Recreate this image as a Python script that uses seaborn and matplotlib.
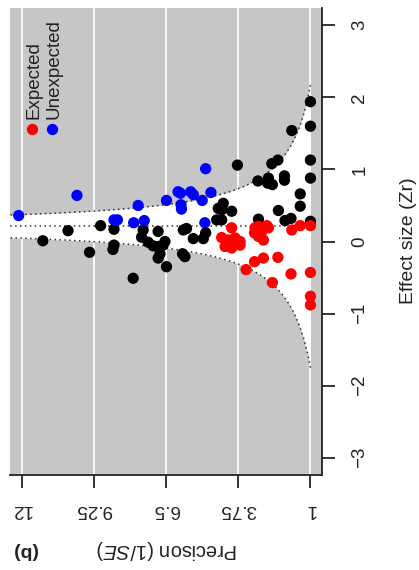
import matplotlib
matplotlib.use("Agg")
import matplotlib.pyplot as plt
import numpy as np
import pandas as pd
import seaborn as sns

sns.set_style("ticks")
plt.rcParams["font.family"] = ["Liberation Sans", "DejaVu Sans"]
plt.rcParams["mathtext.fontset"] = "custom"
plt.rcParams["mathtext.rm"] = "Liberation Sans"
plt.rcParams["mathtext.it"] = "Liberation Sans:italic"

# Studies with no directional prediction
neutral_precision = [11.19, 10.23, 9.41, 8.99, 8.48, 8.48, 8.52, 7.75, 7.37, 7.43,
                     6.80, 7.18, 6.99, 6.80, 6.61, 6.54, 6.80, 6.73, 6.48, 5.84,
                     5.72, 5.87, 5.78, 5.46, 5.08, 4.99, 4.57, 4.38, 4.51, 4.38,
                     4.00, 4.32, 3.78, 2.47, 2.24, 1.00, 3.00, 2.60, 2.63, 2.45,
                     1.99, 1.99, 1.00, 1.39, 1.39, 2.22, 2.98, 1.97, 1.74, 1.00,
                     1.00, 1.71, 1.00]
neutral_effect = [0.01, 0.15, -0.15, 0.22, 0.17, -0.05, -0.11, -0.51, 0.16, 0.06,
                  0.14, -0.01, -0.06, -0.07, -0.05, 0.00, -0.23, -0.17, -0.35, 0.16,
                  0.18, -0.17, -0.21, 0.04, 0.04, 0.12, 0.30, 0.30, 0.46, 0.44,
                  0.42, 0.53, 1.06, 1.08, 1.13, 1.13, 0.84, 0.88, 0.81, 0.79,
                  0.91, 0.85, 0.88, 0.66, 0.49, 0.43, 0.31, 0.29, 0.32, 0.28,
                  1.94, 1.54, 1.60]

# Studies whose result went against the prediction
unexpected_precision = [12.11, 9.89, 8.48, 8.35, 7.56, 7.73, 7.33, 6.48, 6.04, 5.95,
                        5.56, 5.46, 5.93, 5.91, 5.12, 4.79, 5.02, 4.99]
unexpected_effect = [0.36, 0.64, 0.30, 0.30, 0.50, 0.26, 0.29, 0.57, 0.69, 0.67,
                     0.69, 0.65, 0.51, 0.45, 0.57, 0.68, 0.26, 1.01]

# Studies whose result matched the prediction
expected_precision = [4.00, 4.38, 4.13, 3.87, 3.68, 4.25, 4.00, 3.68, 3.11, 2.98,
                      2.85, 2.66, 2.60, 3.13, 2.98, 2.79, 1.71, 1.39, 1.00, 3.13,
                      2.79, 2.24, 3.45, 1.74, 1.00, 2.45, 1.00, 1.00]
expected_effect = [0.19, 0.055, 0.02, 0.05, 0.00, -0.07, -0.09, -0.05, 0.19, 0.21,
                   0.14, 0.22, 0.19, 0.12, 0.07, 0.02, 0.16, 0.22, 0.22, -0.28,
                   -0.23, -0.22, -0.39, -0.45, -0.43, -0.57, -0.76, -0.88]

pooled_effect = 0.21
precision_ticks = [12, 9.25, 6.5, 3.75, 1]
precision_tick_labels = ["12", "9.25", "6.5", "3.75", "1"]
effect_ticks = [3, 2, 1, 0, -1, -2, -3]

df = pd.DataFrame({
    "precision": neutral_precision + unexpected_precision + expected_precision,
    "effect": neutral_effect + unexpected_effect + expected_effect,
    "group": (["Neutral"] * len(neutral_precision)
              + ["Unexpected"] * len(unexpected_precision)
              + ["Expected"] * len(expected_precision)),
})
palette = {"Neutral": "black", "Unexpected": "#0000FF", "Expected": "#FF0000"}

W, H = 419, 570
fig = plt.figure(figsize=(W / 100, H / 100), dpi=100)
ax = fig.add_axes([10 / W, 95 / H, 312 / W, 467 / H])
ax.set_facecolor("#c6c6c6")

# Precision runs right to left, effect size bottom to top
ax.set_xlim(12.44, 0.56)
ax.set_ylim(-3.24, 3.24)

for t in precision_ticks:
    ax.axvline(t, color="white", lw=1.3, zorder=0.5)

# 95% pseudo-confidence funnel around the pooled effect
p = np.linspace(1, 13, 500)
upper = pooled_effect + 1.96 / p
lower = pooled_effect - 1.96 / p
ax.fill_between(p, lower, upper, color="white", lw=0, zorder=1)
dots = (0, (1, 2.2))
ax.plot(p, upper, ls=dots, color="#333333", lw=1.1, zorder=2)
ax.plot(p, lower, ls=dots, color="#333333", lw=1.1, zorder=2)
ax.plot(p, np.full_like(p, pooled_effect), ls=dots, color="#333333", lw=1.1, zorder=2)

sns.scatterplot(data=df, x="precision", y="effect", hue="group", palette=palette,
                s=66, linewidth=0, legend=False, ax=ax, zorder=3)

# Axes: effect size on the right, precision along the bottom
for side in ("left", "top"):
    ax.spines[side].set_visible(False)
for side in ("right", "bottom"):
    ax.spines[side].set_color("#222222")
    ax.spines[side].set_linewidth(1.3)

ax.yaxis.tick_right()
ax.set_yticks(effect_ticks)
ax.set_xticks(precision_ticks, precision_tick_labels)
ax.tick_params(axis="y", direction="out", length=9, width=1.3, pad=12,
               labelsize=13.5, labelrotation=90, colors="#222222")
for lbl in ax.get_yticklabels():
    lbl.set_va("center")
ax.tick_params(axis="x", direction="out", length=9, width=1.3, pad=10,
               labelsize=13.5, labelrotation=180, colors="#222222")
ax.set_xlabel("")
ax.set_ylabel("")

fig.text(408 / W, 1 - 241 / H, "Effect size (Zr)", rotation=90,
         ha="center", va="center", fontsize=14, color="#222222")
fig.text(167 / W, 1 - 549 / H, r"Precison (1/$\mathit{SE}$)", rotation=180,
         ha="center", va="center", fontsize=14.5, color="#222222")
fig.text(25 / W, 1 - 550 / H, "(b)", rotation=180, ha="center", va="center",
         fontsize=14, fontweight="bold", color="#222222")

# Legend with rotated entries
for x_px, name in ((32, "Expected"), (52, "Unexpected")):
    ax.scatter([(x_px - 10) / 312], [(475 - 129) / 467], s=66, color=palette[name],
               linewidths=0, transform=ax.transAxes, zorder=4, clip_on=False)
    fig.text((x_px + 2) / W, 1 - 119 / H, name, rotation=90, ha="center",
             va="bottom", fontsize=13.5, color="#222222")

fig.savefig("out.png", dpi=100)
